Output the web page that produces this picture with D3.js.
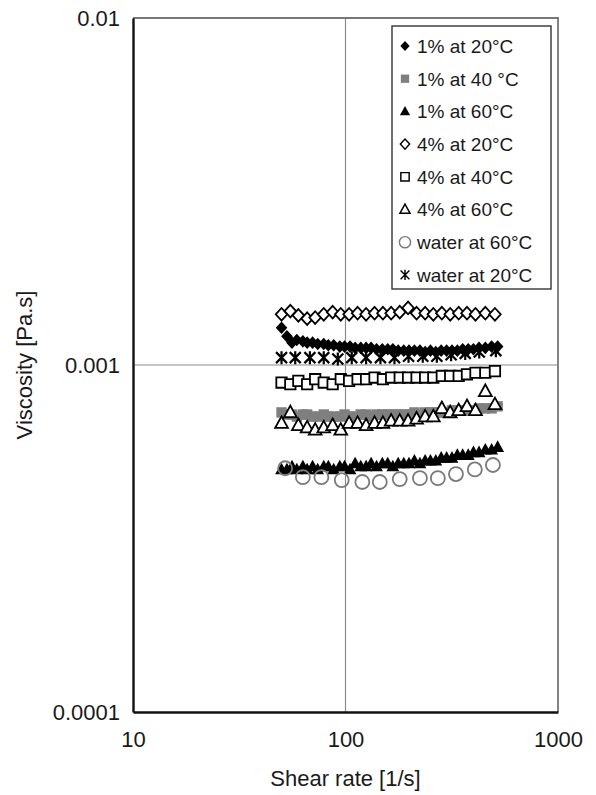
<!DOCTYPE html>
<meta charset="utf-8">
<style>
body { margin: 0; background: #fff; }
svg { font-family: "Liberation Sans", Arial, sans-serif; }
.tick text { font-size: 22px; fill: #1a1a1a; }
.axis path.domain { stroke: #111; stroke-width: 2.4px; }
</style>
<div id="chart"></div>
<script src="https://cdn.jsdelivr.net/npm/d3@7/dist/d3.min.js"></script>
<script>
// shear rate values [1/s]
var shearDense = [50, 53, 56, 59, 63, 66, 70, 74, 79, 83, 88, 94, 99, 105, 111, 118, 125, 132, 140, 149,
  158, 167, 177, 188, 199, 211, 224, 237, 251, 266, 282, 299, 317, 336, 356, 378, 400, 425, 455, 487, 520];
var shear4 = [50, 55, 60, 66, 72, 79, 87, 95, 104, 114, 125, 137, 150, 164, 180, 197, 216, 237, 259, 284,
  311, 341, 373, 409, 455, 505];
var shearW20 = [50, 58, 68, 79, 92, 107, 125, 146, 170, 198, 231, 269, 314, 366, 426, 510];
var shearW60 = [52, 63, 77, 96, 120, 145, 180, 224, 272, 331, 406, 494];

// viscosity values [Pa.s]
var v1at20 = [0.00128, 0.00121, 0.00116, 0.00118, 0.00117, 0.00116, 0.00116, 0.00115, 0.00115, 0.00114,
  0.00114, 0.00113, 0.00113, 0.00113, 0.00112, 0.00112, 0.00112, 0.00112, 0.00111, 0.00111,
  0.00111, 0.00111, 0.00110, 0.00110, 0.00110, 0.00110, 0.00110, 0.00109, 0.00110, 0.00109,
  0.00110, 0.00110, 0.00110, 0.00110, 0.00111, 0.00111, 0.00111, 0.00112, 0.00112, 0.00113, 0.00113];
var v1at40 = [0.00073, 0.00072, 0.00072, 0.00071, 0.00072, 0.00072, 0.00071, 0.00071, 0.00072, 0.00071,
  0.00071, 0.00071, 0.00072, 0.00071, 0.00071, 0.00072, 0.00072, 0.00071, 0.00072, 0.00072,
  0.00072, 0.00072, 0.00072, 0.00072, 0.00072, 0.00073, 0.00072, 0.00073, 0.00073, 0.00073,
  0.00073, 0.00073, 0.00074, 0.00074, 0.00074, 0.00074, 0.00074, 0.00075, 0.00075, 0.00075, 0.00076];
var v1at60 = [0.00050, 0.00050, 0.00051, 0.00050, 0.00051, 0.00050, 0.00051, 0.00050, 0.00051, 0.00051,
  0.00050, 0.00051, 0.00051, 0.00050, 0.00052, 0.00051, 0.00051, 0.00052, 0.00051, 0.00052,
  0.00052, 0.00051, 0.00052, 0.00052, 0.00052, 0.00053, 0.00052, 0.00053, 0.00053, 0.00053,
  0.00054, 0.00054, 0.00054, 0.00055, 0.00055, 0.00055, 0.00056, 0.00056, 0.00057, 0.00057, 0.00058];
var v4at20 = [0.00140, 0.00143, 0.00139, 0.00136, 0.00137, 0.00140, 0.00142, 0.00140, 0.00140, 0.00141,
  0.00140, 0.00141, 0.00141, 0.00141, 0.00142, 0.00146, 0.00141, 0.00141, 0.00140, 0.00141,
  0.00140, 0.00141, 0.00141, 0.00140, 0.00141, 0.00140];
var v4at40 = [0.00089, 0.00088, 0.00090, 0.00088, 0.00091, 0.00089, 0.00088, 0.00091, 0.00090, 0.00091,
  0.00091, 0.00092, 0.00091, 0.00092, 0.00092, 0.00092, 0.00092, 0.00092, 0.00092, 0.00093,
  0.00093, 0.00093, 0.00094, 0.00095, 0.00095, 0.00096];
var v4at60 = [0.00068, 0.00073, 0.00067, 0.00066, 0.00065, 0.00066, 0.00067, 0.00065, 0.00068, 0.00068,
  0.00067, 0.00068, 0.00068, 0.00069, 0.00069, 0.00069, 0.00070, 0.00071, 0.00071, 0.00075,
  0.00073, 0.00074, 0.00076, 0.00074, 0.00084, 0.00077];
var vWat60 = [0.000504, 0.000475, 0.000475, 0.000466, 0.000460, 0.000460, 0.000469, 0.000472, 0.000472,
  0.000485, 0.000500, 0.000515];
var vWat20 = [0.00105, 0.00105, 0.00105, 0.00105, 0.00104, 0.00105, 0.00105, 0.00105, 0.00105, 0.00106,
  0.00106, 0.00106, 0.00107, 0.00108, 0.00109, 0.00110];

var seriesNames = ["1% at 20°C", "1% at 40 °C", "1% at 60°C", "4% at 20°C", "4% at 40°C",
  "4% at 60°C", "water at 60°C", "water at 20°C"];
var xTicks = [10, 100, 1000], xTickLabels = ["10", "100", "1000"];
var yTicks = [0.0001, 0.001, 0.01], yTickLabels = ["0.0001", "0.001", "0.01"];

var series = [
  {name: seriesNames[0], x: shearDense, y: v1at20, sym: "diamond", fill: "#000", stroke: "none"},
  {name: seriesNames[1], x: shearDense, y: v1at40, sym: "square", fill: "#7f7f7f", stroke: "none"},
  {name: seriesNames[2], x: shearDense, y: v1at60, sym: "triangle", fill: "#000", stroke: "none"},
  {name: seriesNames[3], x: shear4, y: v4at20, sym: "diamond", fill: "#fff", stroke: "#000"},
  {name: seriesNames[4], x: shear4, y: v4at40, sym: "square", fill: "#fff", stroke: "#000"},
  {name: seriesNames[5], x: shear4, y: v4at60, sym: "triangle", fill: "#fff", stroke: "#000"},
  {name: seriesNames[6], x: shearW60, y: vWat60, sym: "circle", fill: "none", stroke: "#7a7a7a"},
  {name: seriesNames[7], x: shearW20, y: vWat20, sym: "star", fill: "none", stroke: "#000"}
];

var width = 596, height = 795;
var margin = {top: 18, left: 133, right: 38, bottom: 83};

var svg = d3.select("#chart").append("svg")
  .attr("width", width).attr("height", height);

var x = d3.scaleLog().domain([10, 1000]).range([margin.left, width - margin.right]);
var y = d3.scaleLog().domain([0.0001, 0.01]).range([height - margin.bottom, margin.top]);

// grid lines
svg.append("line").attr("x1", x(100)).attr("x2", x(100)).attr("y1", y(0.01)).attr("y2", y(0.0001))
  .attr("stroke", "#8c8c8c").attr("stroke-width", 1.2);
svg.append("line").attr("x1", x(10)).attr("x2", x(1000)).attr("y1", y(0.001)).attr("y2", y(0.001))
  .attr("stroke", "#8c8c8c").attr("stroke-width", 1.2);
// top and right frame
svg.append("path")
  .attr("d", "M" + x(10) + "," + y(0.01) + "H" + x(1000) + "V" + y(0.0001))
  .attr("fill", "none").attr("stroke", "#777").attr("stroke-width", 1.8);

svg.append("g").attr("class", "axis")
  .attr("transform", "translate(0," + y(0.0001) + ")")
  .call(d3.axisBottom(x).tickValues(xTicks).tickSize(0).tickSizeOuter(0)
    .tickFormat(function(d, i) { return xTickLabels[i]; }))
  .selectAll(".tick text").attr("dy", null).attr("y", 35);

svg.append("g").attr("class", "axis")
  .attr("transform", "translate(" + x(10) + ",0)")
  .call(d3.axisLeft(y).tickValues(yTicks).tickSize(0).tickSizeOuter(0)
    .tickFormat(function(d, i) { return yTickLabels[i]; }))
  .selectAll(".tick text").attr("x", -13).attr("dy", "0.36em");

svg.append("text")
  .attr("x", (x(10) + x(1000)) / 2).attr("y", 786)
  .attr("text-anchor", "middle").attr("font-size", 22).attr("fill", "#1a1a1a")
  .text("Shear rate [1/s]");
svg.append("text")
  .attr("transform", "translate(32," + y(0.001) + ") rotate(-90)")
  .attr("text-anchor", "middle").attr("font-size", 22).attr("fill", "#1a1a1a")
  .text("Viscosity [Pa.s]");

function markerPath(sym) {
  if (sym === "diamond") return "M0,-6.3L5.8,0L0,6.3L-5.8,0Z";
  if (sym === "square") return "M-5.2,-5.2H5.2V5.2H-5.2Z";
  if (sym === "triangle") return "M0,-6.8L6.4,4.8H-6.4Z";
  if (sym === "circle") return "M7,0A7,7 0 1,1 -7,0A7,7 0 1,1 7,0Z";
  return "M-5.5,-5.5L5.5,5.5M5.5,-5.5L-5.5,5.5M0,-6.5V6.5";
}

series.forEach(function(s) {
  svg.append("g").selectAll("path")
    .data(s.x.map(function(v, i) { return [v, s.y[i]]; }))
    .enter().append("path")
    .attr("transform", function(d) { return "translate(" + x(d[0]) + "," + y(d[1]) + ")"; })
    .attr("d", markerPath(s.sym))
    .attr("fill", s.fill)
    .attr("stroke", s.stroke)
    .attr("stroke-width", s.sym === "star" ? 2.2 : 1.8);
});

// legend
var lx = 392, ly = 26, lw = 159, lh = 263, step = 32.7;
var legend = svg.append("g");
legend.append("rect").attr("x", lx).attr("y", ly).attr("width", lw).attr("height", lh)
  .attr("fill", "#fff").attr("stroke", "#333").attr("stroke-width", 1.4);
var items = legend.selectAll("g.item").data(series).enter().append("g")
  .attr("class", "item")
  .attr("transform", function(d, i) { return "translate(" + lx + "," + (ly + 20 + i * step) + ")"; });
items.append("path")
  .attr("transform", "translate(13,0) scale(0.8)")
  .attr("d", function(d) { return markerPath(d.sym); })
  .attr("fill", function(d) { return d.fill; })
  .attr("stroke", function(d) { return d.stroke; })
  .attr("stroke-width", 1.8);
items.append("text")
  .attr("x", 25).attr("dy", "0.36em")
  .attr("font-size", 19).attr("fill", "#1a1a1a")
  .text(function(d) { return d.name; });
</script>
